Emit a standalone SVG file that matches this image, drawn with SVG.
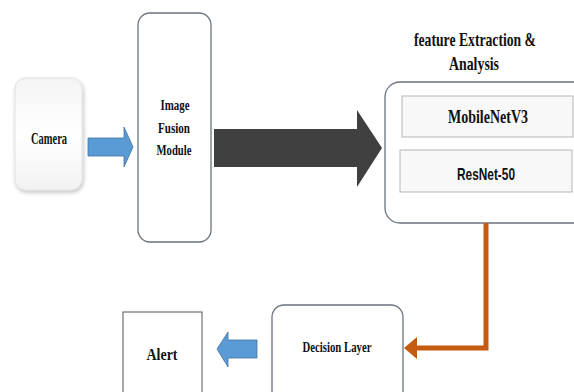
<svg xmlns="http://www.w3.org/2000/svg" width="574" height="392" viewBox="0 0 574 392">
<defs>
<style>
.t{font-family:"Liberation Serif","Times New Roman",serif;font-weight:bold;fill:#111;text-anchor:middle}
.s{font-family:"Liberation Sans",Arial,sans-serif;font-weight:bold;fill:#111;text-anchor:middle}
.box{fill:#fff;stroke:#6b7480;stroke-width:1.3}
.inner{fill:#f8f8f8;stroke:#b5b5b5;stroke-width:1}
.blue{fill:#5b9bd5;stroke:#41719c;stroke-width:0.8}
</style>
<filter id="sh" x="-20%" y="-20%" width="140%" height="140%">
<feGaussianBlur in="SourceAlpha" stdDeviation="2"/>
<feOffset dx="1" dy="2"/>
<feComponentTransfer><feFuncA type="linear" slope="0.25"/></feComponentTransfer>
<feMerge><feMergeNode/><feMergeNode in="SourceGraphic"/></feMerge>
</filter>
<linearGradient id="cg" x1="0" y1="0" x2="0" y2="1">
<stop offset="0" stop-color="#f4f4f4"/>
<stop offset="0.5" stop-color="#ffffff"/>
<stop offset="1" stop-color="#f2f2f2"/>
</linearGradient>
</defs>
<rect width="574" height="392" fill="#fff"/>

<g id="camera">
<rect x="15" y="78" width="67" height="112" rx="11" fill="url(#cg)" stroke="#e2e2e2" stroke-width="1" filter="url(#sh)"/>
<text class="t" x="49" y="144" font-size="17" textLength="36" lengthAdjust="spacingAndGlyphs">Camera</text>
</g>

<g id="fusion">
<rect class="box" x="138" y="13" width="73" height="229" rx="12"/>
<text class="t" x="175" y="110" font-size="15.5" textLength="29" lengthAdjust="spacingAndGlyphs">Image</text>
<text class="t" x="174" y="133" font-size="15.5" textLength="32" lengthAdjust="spacingAndGlyphs">Fusion</text>
<text class="t" x="174" y="155" font-size="15.5" textLength="35" lengthAdjust="spacingAndGlyphs">Module</text>
</g>

<g id="feature">
<text class="t" x="475" y="46" font-size="19" textLength="122" lengthAdjust="spacingAndGlyphs">feature Extraction &amp;</text>
<text class="t" x="474" y="70" font-size="19" textLength="50" lengthAdjust="spacingAndGlyphs">Analysis</text>
<rect class="box" x="385" y="82" width="210" height="141" rx="15"/>
<g id="mobilenet">
<rect class="inner" x="402" y="96" width="171" height="41"/>
<text class="t" x="488" y="123" font-size="19" textLength="80" lengthAdjust="spacingAndGlyphs">MobileNetV3</text>
</g>
<g id="resnet">
<rect class="inner" x="400" y="150" width="172" height="42"/>
<text class="s" x="486" y="180" font-size="17" textLength="58" lengthAdjust="spacingAndGlyphs">ResNet-50</text>
</g>
</g>

<g id="decision">
<rect class="box" x="272" y="305" width="131" height="100" rx="12"/>
<text class="t" x="337" y="352" font-size="15" textLength="69" lengthAdjust="spacingAndGlyphs">Decision Layer</text>
</g>

<g id="alert">
<rect x="123" y="312" width="79" height="95" fill="#fff" stroke="#555" stroke-width="1"/>
<text class="t" x="162" y="360" font-size="17" textLength="31" lengthAdjust="spacingAndGlyphs">Alert</text>
</g>

<g id="connectors">
<polygon class="blue" points="88,138 124,138 124,127 133,147 124,167 124,156 88,156"/>
<polygon fill="#404040" points="214,129 357,129 357,110 382,148 357,187 357,167 214,167"/>
<polyline points="486,223 486,348 415,348" fill="none" stroke="#c55a11" stroke-width="5"/>
<polygon fill="#c55a11" points="404,348 417,337 417,359"/>
<polygon class="blue" points="257,340 228,340 228,332 217,349 228,367 228,358 257,358"/>
</g>
</svg>
